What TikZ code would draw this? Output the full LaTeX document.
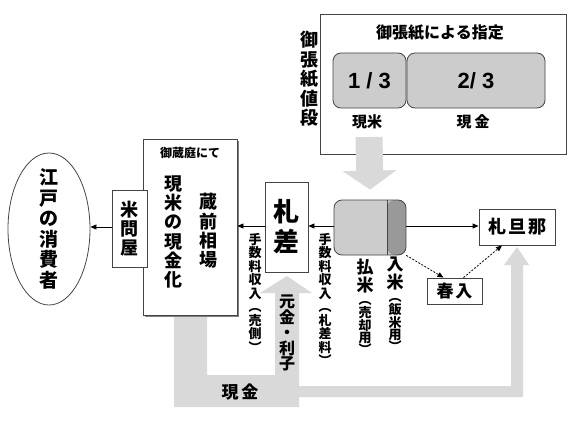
\documentclass[tikz,border=0pt]{standalone}
\usepackage{fontspec}
\usepackage{tikz}
\usetikzlibrary{arrows.meta, positioning, shapes.geometric, shadows}
\newfontfamily\jp{Noto Sans CJK JP}
\newfontfamily\lat{Liberation Sans}
\definecolor{bandgray}{HTML}{D9D9D9}
\definecolor{ricelight}{HTML}{CCCCCC}
\definecolor{ricedark}{HTML}{999999}
\definecolor{framegray}{HTML}{444444}

\begin{document}
\begin{tikzpicture}[x=1pt, y=-1pt,
    box/.style={draw=framegray, line width=0.8pt, fill=white, inner sep=0pt, align=center},
    vtext/.style n args={2}{align=center, inner sep=0pt, font=\jp\bfseries\fontsize{#1}{#2}\selectfont},
    lbl/.style={inner sep=0pt, font=\jp\bfseries\fontsize{#1}{#1}\selectfont},
    flow/.style={-{Triangle[length=6pt,width=5pt]}, line width=0.8pt},
    spring/.style={flow, dash pattern=on 2pt off 1.5pt},
]
    \useasboundingbox (0,0) rectangle (570,428);

    \fill[bandgray] (174,315) -- (207,315) -- (207,375) -- (275,375) -- (275,293) -- (260,293)
        -- (287,276) -- (312,293) -- (299,293) -- (299,386) -- (511,386) -- (511,265)
        -- (504,265) -- (517,247) -- (529,265) -- (523,265) -- (523,397) -- (299,397)
        -- (299,407) -- (174,407) -- cycle;

    \node[box, minimum width=246, minimum height=140] (shitei) at (443,84) {};
    \node[lbl=16] (title) at (440,33) {御張紙による指定};
    \node[box, fill=ricelight, rounded corners=8pt, minimum width=73, minimum height=55, font=\lat\bfseries\fontsize{22}{22}\selectfont] (third) at (369.5,80.5) {1 / 3};
    \node[box, fill=ricelight, rounded corners=8pt, minimum width=138, minimum height=55, font=\lat\bfseries\fontsize{22}{22}\selectfont] (twothird) at (476,80.5) {2/ 3};
    \node[lbl=15] (lblmai) at (367,122) {現米};
    \node[lbl=15] (lblkin) at (473,122) {現\hspace{3pt}金};
    \node[vtext={18}{19.5}] (nedan) at (309,79) {御\\張\\紙\\値\\段};

    \node[box, fill=ricelight, rounded corners=8pt, minimum width=72, minimum height=55,
        path picture={
            \fill[ricedark] ([xshift=-19pt]path picture bounding box.north east) rectangle (path picture bounding box.south east);
            \draw[line width=0.8pt] ([xshift=-19pt]path picture bounding box.north east) -- ([xshift=-19pt]path picture bounding box.south east);
        }] (kome) at (370,227.5) {};
    \draw[bandgray, line width=27pt, -{Triangle[length=19pt,width=53pt]}] (369,137) -- ([yshift=10pt]kome.north);

    \node[box, minimum width=94, minimum height=176, drop shadow={shadow xshift=2pt, shadow yshift=-2pt, fill=gray, opacity=1}] (kura) at (190,227) {};
    \node[lbl=12] (kuratitle) at (190,153) {御蔵庭にて};
    \node[vtext={18}{19.3}] (genmai) at (173,232) {現\\米\\の\\現\\金\\化};
    \node[vtext={18}{19.3}] (soba) at (208,231) {蔵\\前\\相\\場};

    \node[box, minimum width=35, minimum height=77] (beya) at (129.5,228.5) {};
    \node[vtext={18}{19}] (beyatext) at (beya) {米\\問\\屋};
    \node[ellipse, draw=framegray, line width=0.8pt, minimum width=82, minimum height=152] (edo) at (49,229) {};
    \node[vtext={19}{20.6}] (edotext) at (edo) {江\\戸\\の\\消\\費\\者};
    \draw[flow] (beya.west |- 0,227) -- (edo.east |- 0,227);

    \node[box, minimum width=43, minimum height=90] (fudasashi) at (286.5,227) {};
    \node[vtext={26}{30}] (fudatext) at (fudasashi) {札\\差};
    \draw[flow] (fudasashi.west |- 0,226) -- (kura.east |- 0,226);
    \draw[flow] (kome.west |- 0,226) -- (fudasashi.east |- 0,226);

    \node[box, minimum width=76, minimum height=36, font=\jp\bfseries\fontsize{18}{18}\selectfont] (danna) at (517,227) {札\hspace{2pt}旦\hspace{2pt}那};
    \draw[flow] (kome.east |- 0,226) -- (danna.west |- 0,226);
    \node[box, minimum width=55, minimum height=26, font=\jp\bfseries\fontsize{17}{17}\selectfont] (haruiri) at (454.5,291) {春\hspace{2pt}入};
    \draw[spring] (kome.south east) -- ([xshift=-11pt]haruiri.north);
    \draw[spring] ([xshift=9pt]haruiri.north) -- ([xshift=-15pt]danna.south);

    \node[vtext={13}{13.5}, anchor=north] (fee1) at (255,233) {手\\数\\料\\収\\入\\︵\\売\\側\\︶};
    \node[vtext={13}{13.5}, anchor=north] (fee2) at (325,233) {手\\数\\料\\収\\入\\︵\\札\\差\\料\\︶};
    \node[vtext={17}{18}, anchor=north] (harai) at (365,259) {払\\米};
    \node[vtext={13}{12.2}, below=8pt of harai] (haraisub) {︵\\売\\却\\用\\︶};
    \node[vtext={17}{18}, anchor=north] (iri) at (395,257) {入\\米};
    \node[vtext={13}{12.2}, below=8pt of iri] (irisub) {︵\\飯\\米\\用\\︶};

    \node[vtext={16}{15.5}] (gankin) at (287,333) {元\\金\\・\\利\\子};
    \node[lbl=17] (genkin) at (240,392) {現\hspace{3pt}金};
\end{tikzpicture}
\end{document}
